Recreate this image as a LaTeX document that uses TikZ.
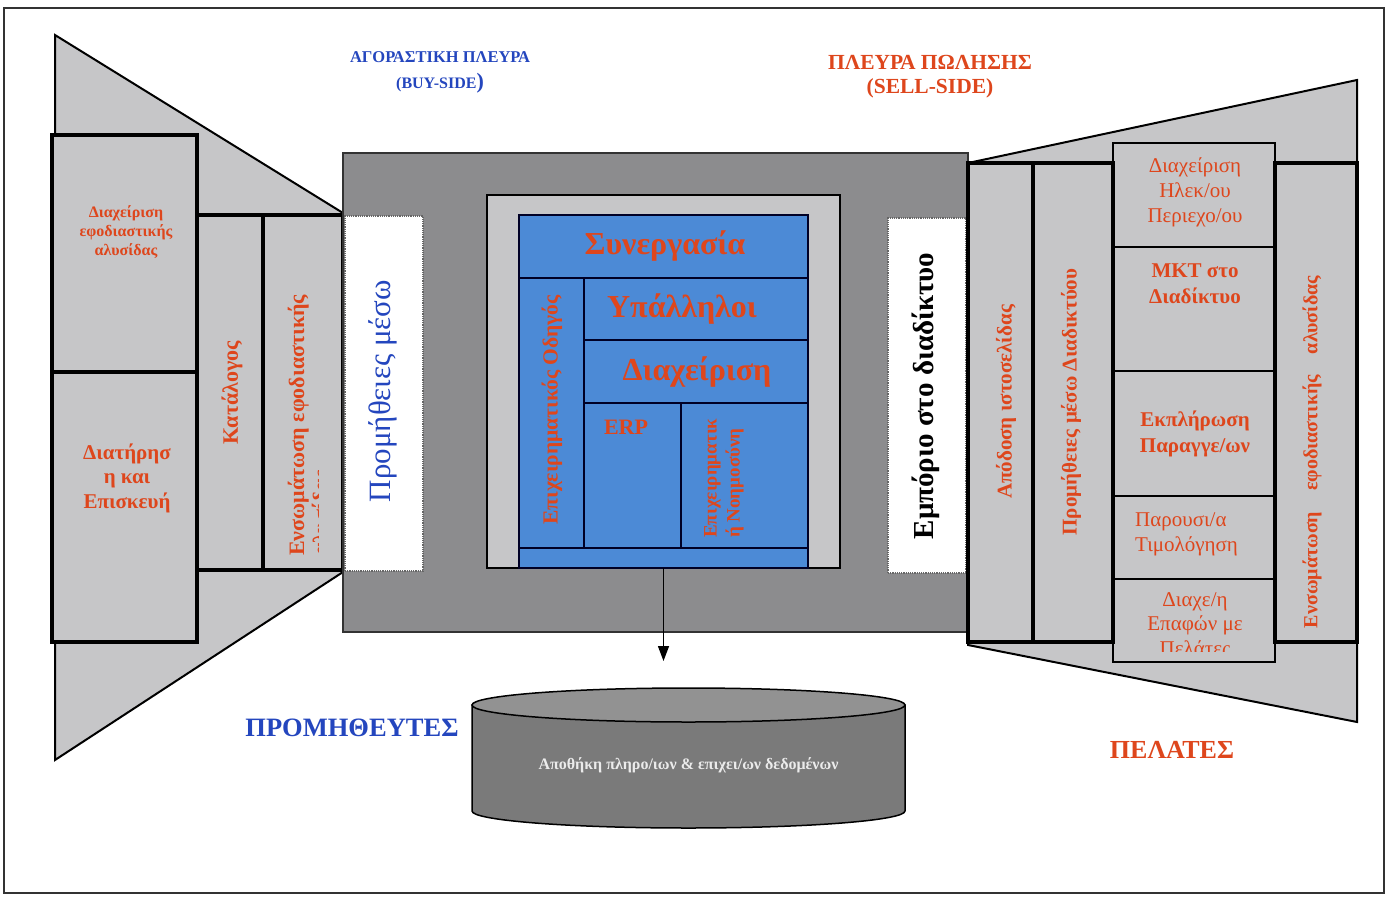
\documentclass[tikz,border=0pt]{standalone}
\usepackage{fontspec}
\setmainfont{Liberation Serif}
\usetikzlibrary{arrows.meta}

\definecolor{panelgray}{RGB}{198,198,200}
\definecolor{hubgray}{RGB}{140,140,142}
\definecolor{coreblue}{RGB}{76,138,214}
\definecolor{textred}{RGB}{222,70,28}
\definecolor{textblue}{RGB}{36,70,190}
\definecolor{storegray}{RGB}{122,122,122}
\definecolor{storetop}{RGB}{146,146,146}

% font size / baseline skip in pt (1pt = 1 unit of the drawing)
\newcommand\fsz[2]{\fontsize{#1}{#2}\selectfont}
% rectangle node from its corners: [style]{x1}{y1}{x2}{y2}{name}
\newcommand\panelcell[6][]{%
  \node[cellbase,#1,minimum width={(#4)-(#2)},minimum height={(#5)-(#3)}]
    (#6) at ({((#2)+(#4))/2},{((#3)+(#5))/2}) {};}

\begin{document}
\begin{tikzpicture}[x=1pt,y=-1pt,
  cellbase/.style={draw,inner sep=0pt,outer sep=0pt,anchor=center},
  funnel/.style={fill=panelgray,draw=black,line width=2pt,line join=miter},
  heavy/.style={fill=panelgray,line width=4.5pt},
  light/.style={fill=panelgray,line width=2.5pt},
  bluecell/.style={fill=coreblue,draw=black!85!blue,line width=1.5pt},
  portal/.style={fill=white,draw=black!60,densely dotted,line width=1.2pt},
  lbl/.style={inner sep=0pt,align=center,text=textred},
  vlbl/.style={lbl,rotate=90},
  flow/.style={line width=1.4pt,-{Triangle[length=15pt,width=11pt]}}
]
\useasboundingbox (0,0) rectangle (1387,897);
\fill[white] (0,0) rectangle (1387,897);
\draw[line width=2pt,black!80] (4,8) rectangle (1384,893);

% ---------- funnels on both sides ----------
\draw[funnel] (55,35) -- (343,213) -- (343,572) -- (55,760) -- cycle;
\draw[funnel] (968,163) -- (1357,80) -- (1357,722) -- (968,645) -- cycle;

% ---------- buy side panels ----------
\panelcell[heavy]{52}{135}{197}{372}{scm}
\panelcell[heavy]{52}{372}{197}{642}{maint}
\panelcell[heavy]{197}{215}{263}{570}{catalog}
\panelcell[heavy]{263}{215}{343}{570}{integrL}

\node[lbl,font=\fsz{16}{19}\bfseries] (scm-t) at (126,232) {Διαχείριση\\εφοδιαστικής\\αλυσίδας};
\node[lbl,font=\fsz{21}{24.5}\bfseries] (maint-t) at (127,478) {Διατήρησ\\η και\\Επισκευή};
\node[vlbl,font=\fsz{22}{24}\bfseries] (catalog-t) at (232,393) {Κατάλογος};
\begin{scope}
  \clip (263,215) rectangle (318,570);
  \node[vlbl,anchor=west,align=left,font=\fsz{22}{24}\bfseries] (integrL-t) at (310,556)
    {Ενσωμάτωση εφοδιαστικής\\αλυσίδας};
\end{scope}

% ---------- central hub ----------
\panelcell[fill=hubgray,draw=black!80,line width=1.2pt]{343}{153}{968}{632}{hub}
\panelcell[portal]{345}{216}{423}{571}{eproc}
\panelcell[portal]{888}{218}{966}{573}{ecom}
\node[vlbl,text=textblue,font=\fsz{31}{34}] (eproc-t) at (383,391) {Προμήθειες μέσω};
\node[vlbl,text=black,font=\fsz{29}{32}\bfseries] (ecom-t) at (926,396) {Εμπόριο στο διαδίκτυο};

\panelcell[fill=panelgray,line width=1.5pt]{487}{195}{840}{568}{inner}
\panelcell[bluecell]{519}{215}{808}{568}{core}
\panelcell[bluecell]{519}{215}{808}{278}{coop}
\panelcell[bluecell]{519}{278}{584}{548}{guide}
\panelcell[bluecell]{584}{278}{808}{340}{staff}
\panelcell[bluecell]{584}{340}{808}{403}{mgmt}
\panelcell[bluecell]{584}{403}{681}{548}{erp}
\panelcell[bluecell]{681}{403}{808}{548}{bi}

\node[lbl,font=\fsz{32}{34}\bfseries] (coop-t) at (665,246) {Συνεργασία};
\node[lbl,font=\fsz{32}{34}\bfseries] (staff-t) at (682,309) {Υπάλληλοι};
\node[lbl,font=\fsz{32}{34}\bfseries] (mgmt-t) at (697,372) {Διαχείριση};
\node[lbl,font=\fsz{22}{24}\bfseries] (erp-t) at (626,427) {ERP};
\node[vlbl,font=\fsz{21.5}{24}\bfseries] (guide-t) at (552,410) {Επιχειρηματικός Οδηγός};
\node[vlbl,anchor=west,align=left,font=\fsz{19}{23}\bfseries] (bi-t) at (724,538)
  {Επιχειρηματικ\\ή Νοημοσύνη};

% ---------- sell side panels ----------
\panelcell[light]{1113}{143}{1275}{247}{content}
\panelcell[light]{1113}{247}{1275}{371}{mkt}
\panelcell[light]{1113}{371}{1275}{496}{orders}
\panelcell[light]{1113}{496}{1275}{579}{pricing}
\panelcell[light]{1113}{579}{1275}{662}{crm}
\panelcell[heavy]{968}{163}{1033}{642}{perf}
\panelcell[heavy]{1033}{163}{1113}{642}{esupply}
\panelcell[heavy]{1275}{163}{1357}{642}{integrR}

\node[vlbl,font=\fsz{21}{24}\bfseries] (perf-t) at (1006,402) {Απόδοση ιστοσελίδας};
\node[vlbl,font=\fsz{21}{24}\bfseries] (esupply-t) at (1071,402) {Προμήθειες μέσω Διαδικτύου};
\node[vlbl,font=\fsz{20}{24}\bfseries] (integrR-t) at (1312,452)
  {\makebox[352pt][s]{Ενσωμάτωση εφοδιαστικής αλυσίδας}};

\node[lbl,font=\fsz{21}{25}] (content-t) at (1195,192) {Διαχείριση\\Ηλεκ/ου\\Περιεχο/ου};
\node[lbl,font=\fsz{21}{26}\bfseries] (mkt-t) at (1195,284) {MKT στο\\Διαδίκτυο};
\node[lbl,font=\fsz{21}{26}\bfseries] (orders-t) at (1195,434) {Εκπλήρωση\\Παραγγε/ων};
\node[lbl,align=left,anchor=west,font=\fsz{21}{25}] (pricing-t) at (1135,534) {Παρουσι/α\\Τιμολόγηση};
\begin{scope}
  \clip (1113,579) rectangle (1275,651);
  \node[lbl,anchor=north,font=\fsz{21}{24.5}] (crm-t) at (1195,592) {Διαχε/η\\Επαφών με\\Πελάτες};
\end{scope}

% ---------- headings ----------
\node[lbl,text=textblue,font=\fsz{16.5}{18}\bfseries] (buy1) at (440,57) {ΑΓΟΡΑΣΤΙΚΗ ΠΛΕΥΡΑ};
\node[lbl,text=textblue,font=\fsz{16}{18}\bfseries] (buy2) at (440,83) {(BUY-SIDE{\fsz{22}{24})}};
\node[lbl,font=\fsz{21.5}{24}\bfseries] (sell1) at (930,62) {ΠΛΕΥΡΑ ΠΩΛΗΣΗΣ};
\node[lbl,font=\fsz{21.5}{24}\bfseries] (sell2) at (930,88) {(SELL-SIDE)};
\node[lbl,text=textblue,font=\fsz{26.5}{30}\bfseries] (suppliers) at (352,728) {ΠΡΟΜΗΘΕΥΤΕΣ};
\node[lbl,font=\fsz{26}{30}\bfseries] (customers) at (1172,750) {ΠΕΛΑΤΕΣ};

% ---------- data store ----------
\fill[storegray,draw=black,line width=1.5pt]
  (472,705) -- (472,811) arc[start angle=180,end angle=360,x radius=216.5pt,y radius=17pt]
  -- (905,705) -- cycle;
\draw[fill=storetop,line width=1.5pt] (688.5,705) ellipse[x radius=216.5pt,y radius=17pt];
\node[lbl,text=black!8,font=\fsz{16}{18}\bfseries] (store) at (688.5,765)
  {Αποθήκη πληρο/ιων \& επιχει/ων δεδομένων};
\coordinate (storein) at (663.5,661);
\draw[flow] (core.south) -- (storein);
\end{tikzpicture}
\end{document}
